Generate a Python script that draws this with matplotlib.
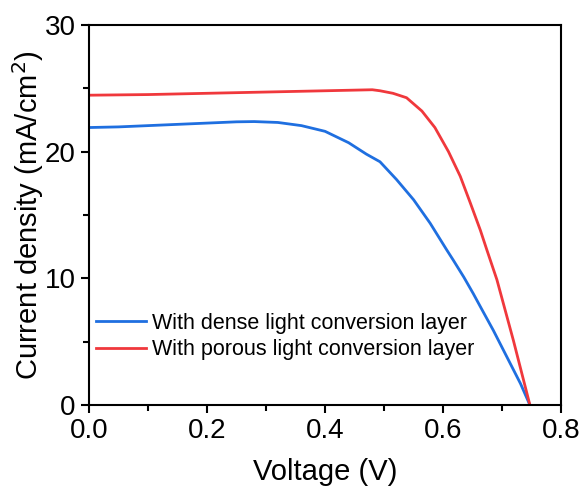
import numpy as np
import matplotlib.pyplot as plt
from matplotlib.ticker import MultipleLocator

plt.rcParams['font.family'] = ['Liberation Sans', 'DejaVu Sans']

# Curvas J-V
v_dense = [0.0, 0.05, 0.10, 0.15, 0.20, 0.25, 0.28, 0.32, 0.36, 0.40, 0.44, 0.47,
           0.493, 0.521, 0.55, 0.578, 0.606, 0.617, 0.635, 0.651, 0.665, 0.685,
           0.708, 0.731, 0.747]
j_dense = [21.9, 21.95, 22.05, 22.15, 22.25, 22.35, 22.37, 22.3, 22.05, 21.6, 20.7, 19.8,
           19.2, 17.8, 16.2, 14.35, 12.25, 11.45, 10.1, 8.8, 7.6, 5.9,
           3.8, 1.7, 0.0]

v_porous = [0.0, 0.10, 0.20, 0.30, 0.40, 0.45, 0.48, 0.493, 0.515, 0.538, 0.564, 0.586,
            0.609, 0.629, 0.646, 0.663, 0.674, 0.691, 0.719, 0.747]
j_porous = [24.45, 24.5, 24.6, 24.7, 24.8, 24.85, 24.88, 24.8, 24.6, 24.25, 23.2, 21.9,
            20.0, 18.05, 15.95, 13.8, 12.25, 9.9, 5.1, 0.0]

fig = plt.figure(figsize=(5.81, 4.87), dpi=100)
ax = fig.add_axes([0.153, 0.168, 0.813, 0.781])

ax.plot(v_dense, j_dense, color='#1f6fe0', linewidth=2.0,
        label='With dense light conversion layer')
ax.plot(v_porous, j_porous, color='#f0383c', linewidth=2.0,
        label='With porous light conversion layer')

ax.set_xlim(0, 0.8)
ax.set_ylim(0, 30)
ax.xaxis.set_major_locator(MultipleLocator(0.2))
ax.xaxis.set_minor_locator(MultipleLocator(0.1))
ax.yaxis.set_major_locator(MultipleLocator(10))
ax.yaxis.set_minor_locator(MultipleLocator(5))
ax.xaxis.set_major_formatter(plt.FormatStrFormatter('%.1f'))

ax.tick_params(which='major', direction='out', length=6, width=1.5, labelsize=20)
ax.tick_params(which='minor', direction='out', length=4, width=1.5)
for s in ax.spines.values():
    s.set_linewidth(1.5)

ax.set_xlabel('Voltage (V)', fontsize=21, labelpad=10)
ax.set_ylabel('Current density (mA/cm$^2$)', fontsize=21, labelpad=-1)

ax.legend(loc='center left', bbox_to_anchor=(0.016, 0.18), frameon=False,
          fontsize=15.5, handlelength=2.3, handletextpad=0.3, labelspacing=0.25,
          borderaxespad=0, borderpad=0)

plt.savefig('out.png', dpi=100, facecolor='white')
plt.close()
